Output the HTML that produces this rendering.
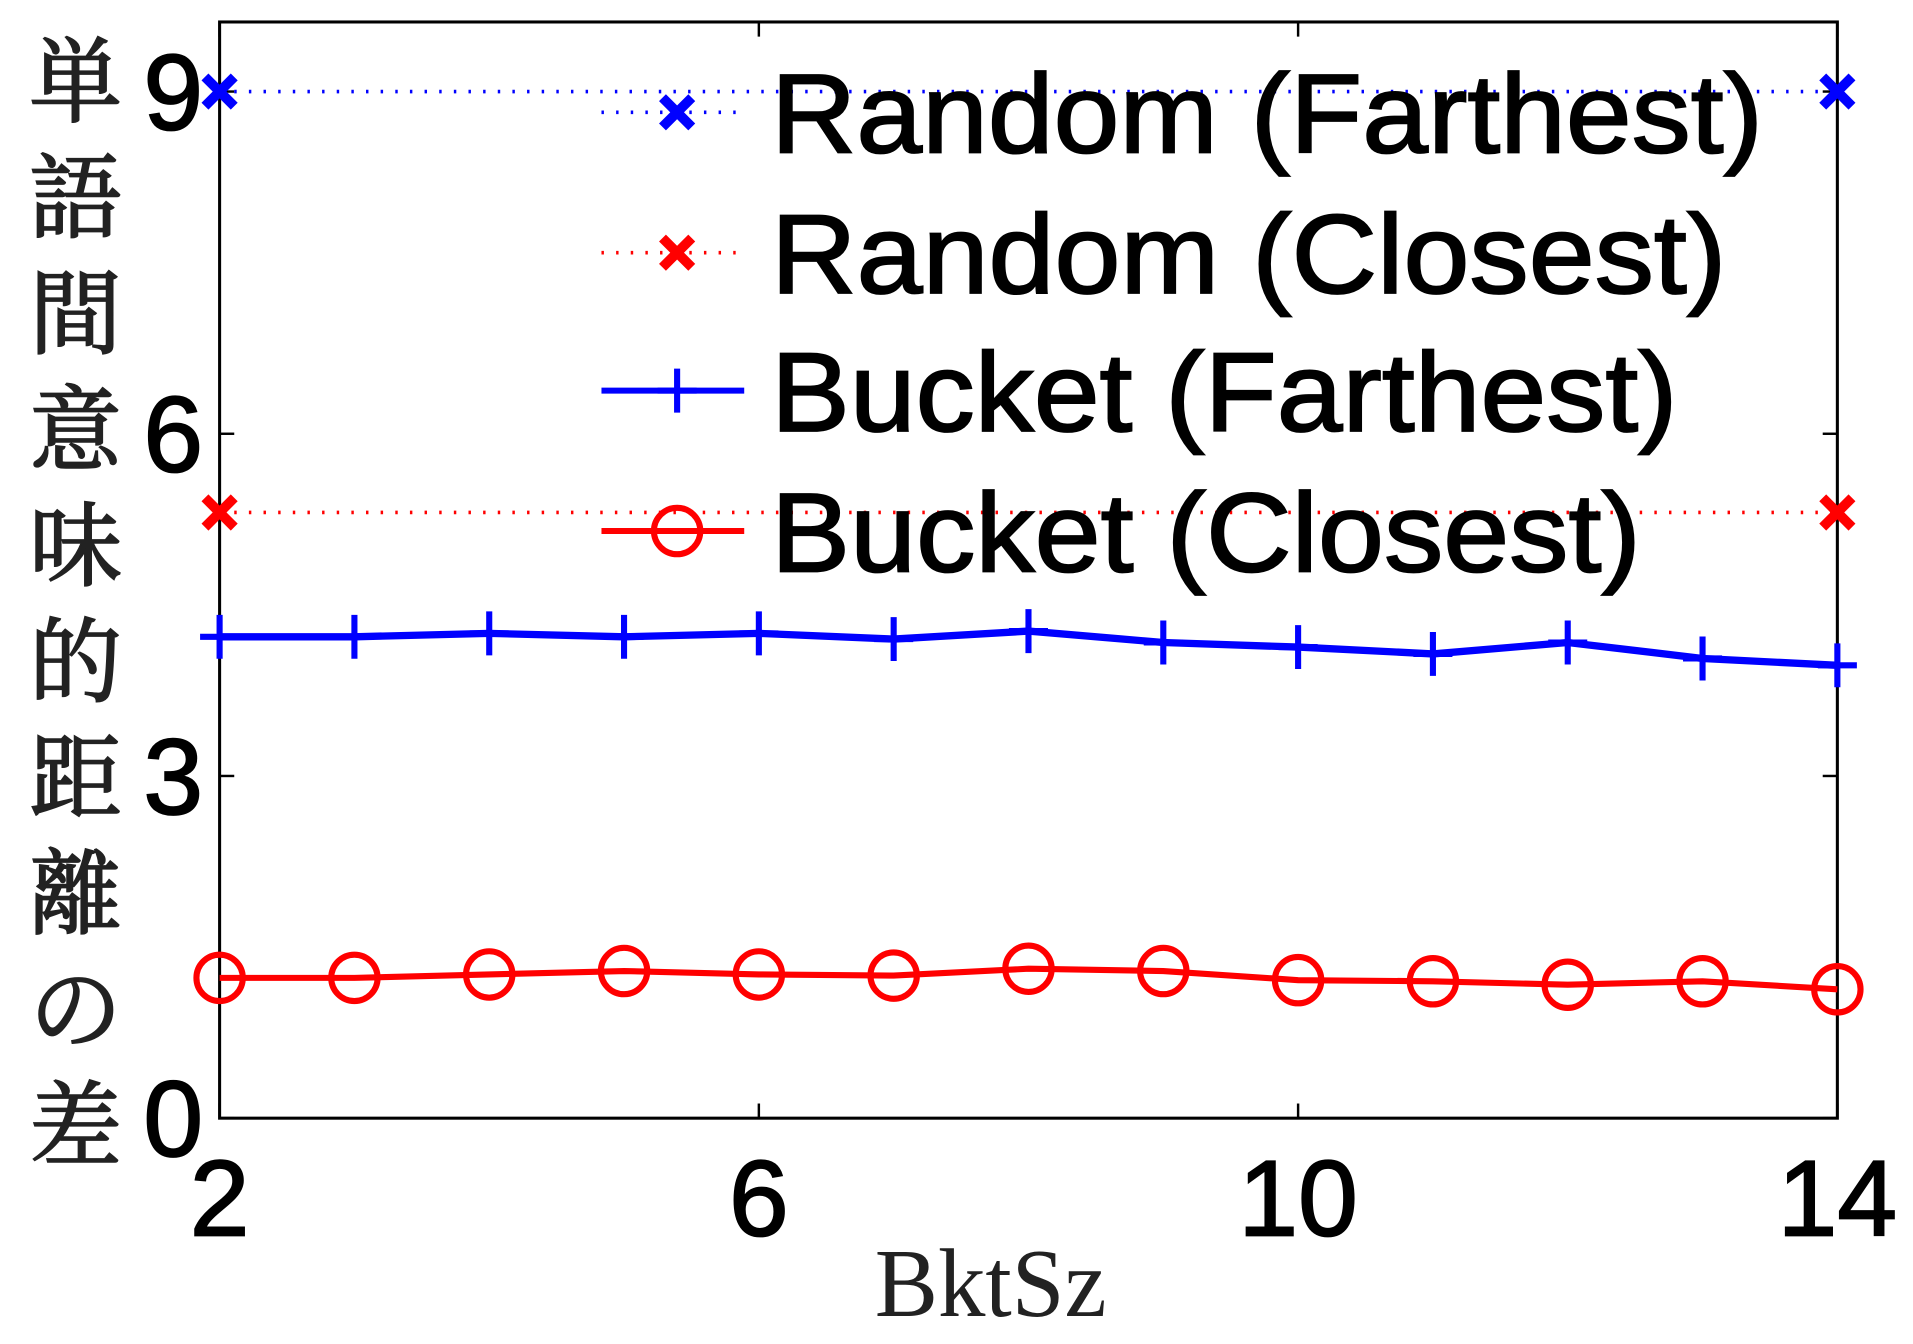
<!DOCTYPE html>
<html><head><meta charset="utf-8"><style>
html,body{margin:0;padding:0;background:#fff;}
svg{display:block;}
</style></head><body>
<svg id="chart" width="1913" height="1344" viewBox="0 0 1568 1101" preserveAspectRatio="none" xmlns="http://www.w3.org/2000/svg">
<g id="plot"></g>
</svg>
<script>
const xCats = [2,3,4,5,6,7,8,9,10,11,12,13,14];
const bucketFarthest = [4.22,4.22,4.25,4.22,4.25,4.2,4.27,4.17,4.13,4.07,4.17,4.03,3.97];
const bucketClosest = [1.23,1.23,1.26,1.29,1.26,1.25,1.31,1.29,1.21,1.2,1.17,1.2,1.13];
const randomFarthest = [9.0,9.0];
const randomClosest = [5.31,5.31];
const randomX = [2,14];
const xTicks = [2,6,10,14];
const yTicks = [0,3,6,9];
const yLabelChars = ['単','語','間','意','味','的','距','離','の','差'];

const NS='http://www.w3.org/2000/svg';
const g=document.getElementById('plot');
const X0=180,X1=1506,Y0=916,Y1=18;
const xs=v=>X0+(v-2)/(14-2)*(X1-X0);
function ysf(v){return Y0-(v/9)*(Y0-75);}
function el(tag,attrs,parent){const e=document.createElementNS(NS,tag);for(const k in attrs)e.setAttribute(k,attrs[k]);(parent||g).appendChild(e);return e;}

const frame=el('rect',{x:X0,y:Y1,width:X1-X0,height:Y0-Y1,fill:'none',stroke:'#000','stroke-width':2.5});



xTicks.forEach(t=>{
  const x=xs(t);
  el('line',{x1:x,y1:Y0,x2:x,y2:Y0-12,stroke:'#000','stroke-width':2});
  el('line',{x1:x,y1:Y1,x2:x,y2:Y1+12,stroke:'#000','stroke-width':2});
  const tx=el('text',{x:x,y:1012,'font-family':'Liberation Sans, sans-serif','font-size':88,'text-anchor':'middle',fill:'#000',stroke:'#000','stroke-width':1.5});
  tx.textContent=t;
  
  
});
yTicks.forEach(t=>{
  const y=ysf(t);
  el('line',{x1:X0,y1:y,x2:X0+12,y2:y,stroke:'#000','stroke-width':2});
  el('line',{x1:X1,y1:y,x2:X1-12,y2:y,stroke:'#000','stroke-width':2});
  const tx=el('text',{x:142,y:y+31,'font-family':'Liberation Sans, sans-serif','font-size':88,'text-anchor':'middle',fill:'#000',stroke:'#000','stroke-width':1.5});
  tx.textContent=t;
  
  
});
yLabelChars.forEach((c,i)=>{
  const tx=el('text',{x:62,y:94+i*95,'font-family':'Liberation Serif, Noto Serif CJK SC, serif','font-size':76,'text-anchor':'middle',fill:'#222',stroke:'#222','stroke-width':1.5});
  tx.textContent=c;
  
  
});
const xt=el('text',{x:812,y:1078,'font-family':'Liberation Serif, serif','font-size':80,'text-anchor':'middle',fill:'#222',textLength:190,lengthAdjust:'spacingAndGlyphs'});
xt.textContent='BktSz';



function xMark(x,y,color){
  el('path',{d:`M${x-12},${y-12}L${x+12},${y+12}M${x-12},${y+12}L${x+12},${y-12}`,stroke:color,'stroke-width':8});
}
function plus(x,y,color){
  el('path',{d:`M${x-16},${y}L${x+16},${y}M${x},${y-18}L${x},${y+18}`,stroke:color,'stroke-width':5});
}
function circ(x,y,color){el('circle',{cx:x,cy:y,r:19,fill:'none',stroke:color,'stroke-width':5});}

[[randomFarthest,'#0000ff','random-farthest-line'],[randomClosest,'#ff0000','random-closest-line']].forEach(([vals,c,n])=>{
  const pts=vals.map((v,i)=>xs(randomX[i])+','+ysf(v)).join(' ');
  const pl=el('polyline',{points:pts,fill:'none',stroke:c,'stroke-width':3,'stroke-dasharray':'2 10'});
  
  
  vals.forEach((v,i)=>xMark(xs(randomX[i]),ysf(v),c));
});
const bf=el('polyline',{points:bucketFarthest.map((v,i)=>xs(xCats[i])+','+ysf(v)).join(' '),fill:'none',stroke:'#0000ff','stroke-width':6});


bucketFarthest.forEach((v,i)=>plus(xs(xCats[i]),ysf(v),'#0000ff'));
const bc=el('polyline',{points:bucketClosest.map((v,i)=>xs(xCats[i])+','+ysf(v)).join(' '),fill:'none',stroke:'#ff0000','stroke-width':5});


bucketClosest.forEach((v,i)=>circ(xs(xCats[i]),ysf(v),'#ff0000'));

const leg=[['Random (Farthest)','#0000ff','dot','x',92,813],['Random (Closest)','#ff0000','dot','x',207,783],['Bucket (Farthest)','#0000ff','solid','+',320,743],['Bucket (Closest)','#ff0000','solid','o',435,713]];
leg.forEach(([label,c,ls,m,y,w])=>{
  const ln=el('line',{x1:493,y1:y,x2:610,y2:y,stroke:c,'stroke-width':ls==='dot'?3:5,'stroke-dasharray':ls==='dot'?'2 10':'none'});
  
  
  if(m==='x')xMark(555,y,c);else if(m==='+')plus(555,y,c);else circ(555,y,c);
  const tx=el('text',{x:632,y:y+33,'font-family':'Liberation Sans, sans-serif','font-size':92,fill:'#000',stroke:'#000','stroke-width':1.5,textLength:w,lengthAdjust:'spacingAndGlyphs'});
  tx.textContent=label;
  
  
});
</script>
</body></html>
